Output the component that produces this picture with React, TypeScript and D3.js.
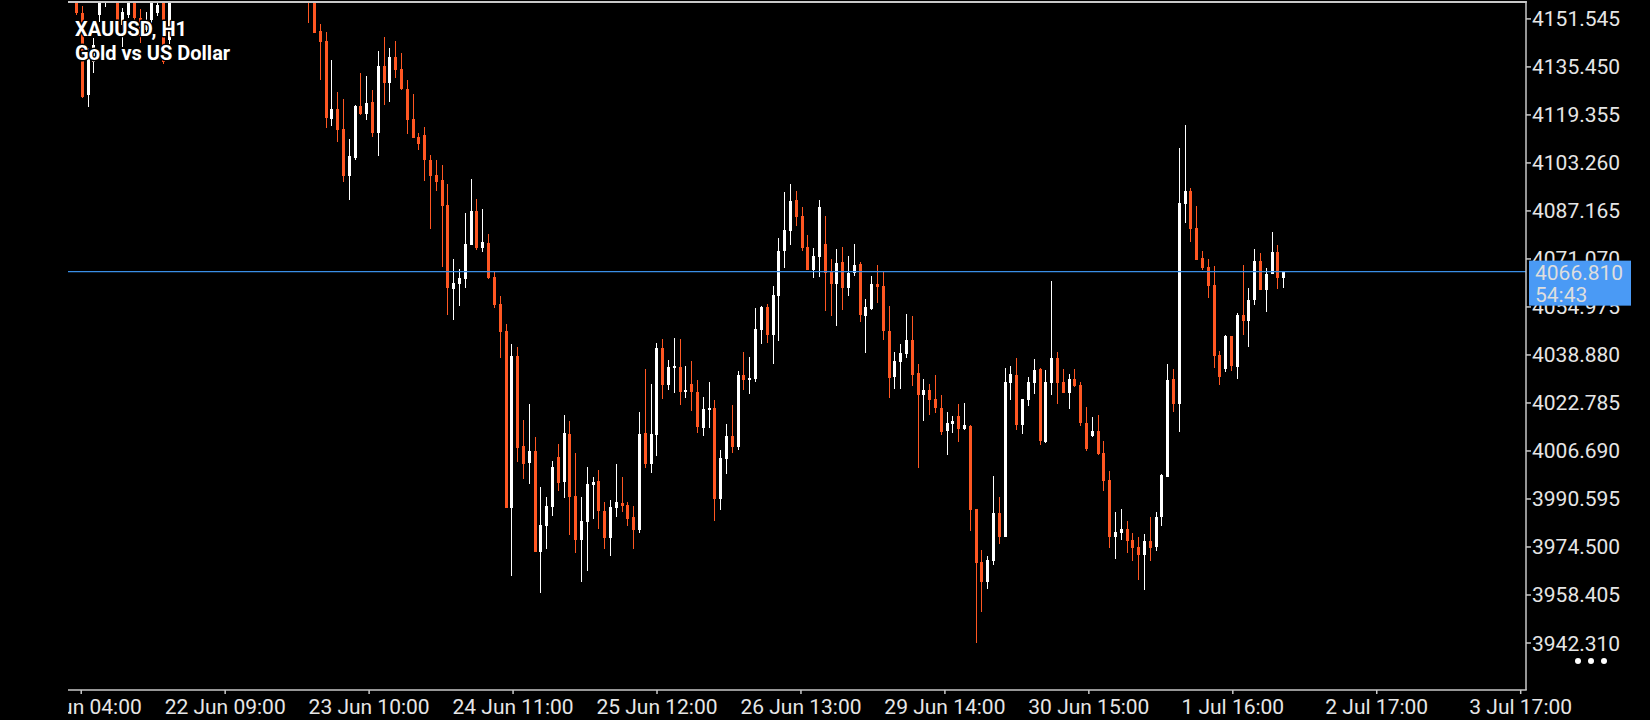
import React, { useEffect } from 'react';
import * as d3 from 'd3';

// XAUUSD H1 bars, oldest first (bars 17-39 sit above the visible window)
const opens = [
  4161.2, 4153.4, 4126.0, 4137.1, 4152.8, 4159.6, 4166.0, 4161.2, 4149.5, 4152.8,
  4160.6, 4151.8, 4147.8, 4151.2, 4153.5, 4159.9, 4144.5, 4160.6, 4164.2, 4168.5,
  4165.0, 4170.4, 4174.9, 4171.3, 4168.1, 4172.6, 4179.2, 4176.0, 4173.4, 4175.9,
  4171.2, 4167.7, 4170.8, 4168.0, 4164.5, 4168.3, 4165.1, 4162.0, 4164.9, 4161.3,
  4162.5, 4158.5, 4147.5, 4144.1, 4118.1, 4121.3, 4114.6, 4098.9, 4104.9, 4122.3,
  4119.6, 4123.7, 4113.4, 4135.8, 4130.2, 4138.8, 4134.7, 4128.0, 4118.0, 4111.9,
  4112.6, 4104.2, 4099.2, 4097.5, 4089.1, 4061.0, 4062.7, 4064.3, 4075.7, 4087.1,
  4074.7, 4076.4, 4065.0, 4055.9, 4046.9, 3987.5, 4038.5, 4008.3, 4002.6, 4006.6,
  3972.8, 3981.5, 3987.9, 4004.6, 3996.3, 4012.4, 3991.6, 3976.8, 3982.9, 3995.3,
  3996.6, 3986.5, 3977.5, 3987.5, 3989.2, 3988.5, 3984.5, 3980.2, 4012.7, 4002.3,
  4012.0, 4041.2, 4028.8, 4034.5, 4034.8, 4026.4, 4029.1, 4026.4, 4014.4, 4020.4,
  4021.1, 3990.6, 4004.0, 4011.7, 4008.0, 4032.1, 4030.5, 4030.8, 4047.2, 4054.9,
  4045.5, 4058.6, 4073.7, 4080.4, 4090.8, 4085.5, 4075.1, 4067.3, 4071.7, 4076.1,
  4066.7, 4062.7, 4070.0, 4061.3, 4066.3, 4069.3, 4051.9, 4054.3, 4062.7, 4062.0,
  4046.9, 4031.5, 4036.5, 4039.2, 4043.9, 4032.8, 4025.4, 4027.1, 4024.1, 4021.1,
  4013.4, 4015.7, 4018.4, 4014.0, 4015.0, 3987.2, 3969.4, 3962.7, 3969.8, 3985.9,
  3977.8, 4029.5, 4032.1, 4015.4, 4023.8, 4029.5, 4034.1, 4009.7, 4029.5, 4037.8,
  4029.8, 4026.1, 4030.8, 4028.8, 4016.0, 4011.7, 4013.4, 4006.0, 3996.9, 3977.8,
  3979.2, 3980.5, 3976.8, 3974.5, 3971.8, 3976.5, 3974.5, 3984.5, 3997.9, 4030.8,
  4022.4, 4089.5, 4093.8, 4081.4, 4071.4, 4068.4, 4062.3, 4038.9, 4034.1, 4045.2,
  4034.8, 4052.3, 4050.3, 4057.3, 4070.4, 4060.6, 4066.0, 4073.4, 4064.7,
];
const highs = [
  4164.6, 4155.9, 4141.8, 4145.1, 4166.3, 4167.9, 4170.0, 4162.9, 4155.2, 4164.6,
  4162.6, 4154.9, 4153.9, 4163.9, 4160.6, 4161.9, 4162.9, 4166.0, 4170.1, 4172.3,
  4171.8, 4176.5, 4178.0, 4175.2, 4173.9, 4181.4, 4183.5, 4180.2, 4177.8, 4179.6,
  4174.0, 4172.5, 4173.6, 4171.1, 4169.8, 4170.9, 4167.4, 4166.7, 4168.2, 4164.0,
  4164.0, 4161.0, 4149.8, 4147.1, 4137.8, 4127.0, 4124.7, 4111.3, 4122.6, 4133.4,
  4132.4, 4127.7, 4140.8, 4145.5, 4141.8, 4144.1, 4140.1, 4131.1, 4126.4, 4113.3,
  4115.3, 4105.9, 4104.2, 4102.5, 4096.2, 4071.0, 4067.7, 4086.5, 4097.9, 4091.2,
  4087.8, 4079.4, 4067.0, 4058.6, 4049.2, 4042.5, 4041.5, 4017.0, 4022.4, 4011.3,
  3994.6, 3991.2, 4003.3, 4009.0, 4018.7, 4016.7, 4006.0, 3991.2, 4001.3, 3997.9,
  4000.3, 3989.6, 3990.2, 4002.3, 3997.9, 3989.6, 3988.2, 4019.7, 4034.2, 4029.1,
  4042.9, 4044.2, 4037.2, 4044.5, 4044.2, 4035.2, 4036.8, 4030.5, 4024.8, 4029.8,
  4023.8, 4007.0, 4015.7, 4022.1, 4033.5, 4039.9, 4038.2, 4054.6, 4055.3, 4055.9,
  4062.0, 4078.1, 4093.5, 4096.2, 4093.8, 4088.5, 4079.1, 4074.7, 4090.8, 4085.5,
  4071.0, 4074.4, 4075.1, 4072.0, 4076.1, 4070.0, 4057.6, 4065.3, 4069.0, 4067.0,
  4055.3, 4039.9, 4042.5, 4052.6, 4051.9, 4035.8, 4030.8, 4029.1, 4032.1, 4025.4,
  4019.7, 4018.4, 4022.4, 4022.7, 4015.4, 3987.2, 3973.5, 3971.5, 3998.3, 3991.2,
  4034.5, 4035.2, 4037.8, 4024.1, 4031.5, 4037.5, 4034.5, 4033.8, 4063.7, 4039.9,
  4034.2, 4032.5, 4034.2, 4029.8, 4021.4, 4018.1, 4018.7, 4010.0, 4000.0, 3986.2,
  3987.2, 3983.2, 3979.2, 3977.8, 3978.8, 3984.5, 3986.2, 3998.9, 4035.8, 4034.2,
  4108.3, 4116.0, 4094.8, 4088.8, 4073.7, 4071.0, 4068.7, 4040.2, 4045.5, 4045.2,
  4052.9, 4069.0, 4061.3, 4074.4, 4073.0, 4068.0, 4080.1, 4075.7, 4067.0,
];
const lows = [
  4152.8, 4125.0, 4122.1, 4133.4, 4150.5, 4155.5, 4159.0, 4147.8, 4142.1, 4151.8,
  4151.2, 4143.5, 4147.2, 4149.8, 4152.5, 4136.4, 4143.1, 4158.5, 4161.8, 4163.9,
  4163.0, 4168.2, 4169.5, 4166.8, 4165.7, 4170.8, 4174.1, 4171.6, 4169.0, 4170.3,
  4165.4, 4164.1, 4166.3, 4162.9, 4161.7, 4163.2, 4159.8, 4158.9, 4160.1, 4157.6,
  4150.3, 4146.9, 4131.1, 4115.1, 4115.6, 4110.4, 4097.0, 4090.8, 4104.2, 4119.3,
  4117.6, 4112.0, 4105.6, 4122.7, 4123.7, 4131.8, 4127.7, 4113.0, 4111.6, 4107.6,
  4097.2, 4081.2, 4093.9, 4068.5, 4052.3, 4050.6, 4055.3, 4061.3, 4075.7, 4074.1,
  4073.4, 4064.3, 4054.6, 4037.8, 3987.5, 3964.7, 4003.0, 3997.3, 3995.6, 3972.8,
  3959.0, 3973.8, 3984.9, 3993.2, 3990.9, 3978.5, 3972.5, 3962.7, 3966.4, 3983.9,
  3980.5, 3973.8, 3971.4, 3984.5, 3986.2, 3981.5, 3973.8, 3979.2, 4001.0, 3999.3,
  4005.0, 4024.1, 4027.1, 4026.1, 4022.1, 4024.4, 4020.1, 4012.7, 4011.7, 4014.4,
  3983.2, 3986.9, 3998.9, 4006.0, 4007.0, 4027.1, 4025.8, 4029.8, 4042.5, 4042.9,
  4035.8, 4043.5, 4068.0, 4075.7, 4082.1, 4073.7, 4067.3, 4064.7, 4065.0, 4053.6,
  4051.9, 4048.6, 4053.9, 4058.6, 4065.3, 4049.9, 4039.5, 4053.9, 4056.3, 4043.9,
  4024.4, 4027.4, 4027.4, 4037.8, 4028.5, 4001.0, 4016.7, 4018.7, 4019.4, 4012.0,
  4005.3, 4012.7, 4009.7, 4013.7, 3979.8, 3942.3, 3952.7, 3960.4, 3968.5, 3975.5,
  3977.8, 4023.8, 4013.7, 4012.4, 4021.7, 4025.8, 4008.7, 4009.3, 4025.4, 4022.4,
  4026.1, 4020.7, 4028.1, 4015.0, 4006.6, 4011.4, 4005.3, 3993.2, 3974.1, 3970.4,
  3976.8, 3972.5, 3969.8, 3963.4, 3960.1, 3969.8, 3973.1, 3981.5, 3997.9, 4019.7,
  4013.0, 4083.1, 4076.7, 4070.7, 4067.3, 4058.0, 4034.5, 4028.8, 4033.1, 4033.5,
  4030.8, 4045.5, 4041.5, 4055.6, 4060.6, 4053.3, 4066.0, 4061.0, 4061.3,
];
const closes = [
  4153.4, 4125.5, 4138.4, 4142.8, 4162.9, 4166.3, 4163.0, 4150.2, 4153.9, 4161.9,
  4151.8, 4145.8, 4151.2, 4161.2, 4156.2, 4137.1, 4160.6, 4164.2, 4168.5, 4165.0,
  4170.4, 4174.9, 4171.3, 4168.1, 4172.6, 4179.2, 4176.0, 4173.4, 4175.9, 4171.2,
  4167.7, 4170.8, 4168.0, 4164.5, 4168.3, 4165.1, 4162.0, 4164.9, 4161.3, 4160.2,
  4157.3, 4146.9, 4143.9, 4118.4, 4121.3, 4114.3, 4098.9, 4105.7, 4122.3, 4119.6,
  4123.3, 4113.4, 4135.8, 4130.2, 4138.8, 4134.4, 4128.0, 4117.6, 4111.6, 4109.6,
  4104.2, 4099.0, 4097.0, 4088.9, 4061.4, 4063.0, 4064.7, 4076.1, 4087.1, 4074.7,
  4076.7, 4064.7, 4055.6, 4046.6, 3987.5, 4038.5, 4007.7, 4002.3, 4006.6, 3972.8,
  3981.8, 3988.2, 4001.3, 3995.9, 4012.7, 3991.2, 3976.8, 3983.2, 3995.6, 3996.3,
  3986.5, 3977.5, 3987.9, 3989.6, 3988.2, 3983.9, 3980.2, 4012.4, 4002.3, 4012.4,
  4041.2, 4028.8, 4034.8, 4035.2, 4026.4, 4027.1, 4026.4, 4014.7, 4020.7, 4021.1,
  3990.6, 4004.3, 4011.7, 4008.0, 4032.1, 4030.5, 4031.1, 4047.6, 4054.9, 4045.5,
  4059.0, 4073.7, 4080.8, 4090.5, 4085.1, 4074.7, 4067.3, 4072.0, 4088.5, 4066.3,
  4062.7, 4069.7, 4061.3, 4066.3, 4069.0, 4052.3, 4054.9, 4062.7, 4061.6, 4046.9,
  4031.1, 4036.8, 4039.5, 4043.9, 4032.1, 4025.4, 4027.1, 4023.8, 4021.1, 4013.0,
  4016.0, 4016.7, 4014.0, 4015.4, 3986.9, 3969.1, 3962.7, 3970.1, 3985.9, 3977.8,
  4029.8, 4032.5, 4015.4, 4024.1, 4029.8, 4033.8, 4010.0, 4029.8, 4037.8, 4029.5,
  4026.1, 4030.8, 4028.5, 4016.0, 4007.3, 4013.4, 4005.6, 3996.6, 3977.8, 3979.5,
  3980.5, 3976.5, 3974.1, 3971.8, 3976.5, 3974.1, 3984.5, 3998.6, 4030.5, 4022.4,
  4089.8, 4093.8, 4081.1, 4070.7, 4068.0, 4062.0, 4038.5, 4031.5, 4045.2, 4035.2,
  4052.3, 4050.3, 4057.3, 4070.4, 4060.6, 4066.0, 4073.4, 4064.7, 4066.81,
];

const priceTicks = [
  4151.545, 4135.45, 4119.355, 4103.26, 4087.165, 4071.07, 4054.975,
  4038.88, 4022.785, 4006.69, 3990.595, 3974.5, 3958.405, 3942.31,
];
const timeLabels = [
  '19 Jun 04:00', '22 Jun 09:00', '23 Jun 10:00', '24 Jun 11:00', '25 Jun 12:00',
  '26 Jun 13:00', '29 Jun 14:00', '30 Jun 15:00', '1 Jul 16:00', '2 Jul 17:00', '3 Jul 17:00',
];
const lastPrice = 4066.81;
const barTimer = '54:43';
const symbolTitle = 'XAUUSD, H1';
const symbolName = 'Gold vs US Dollar';

const W = 1650, H = 720;
const plot = { left: 68, right: 1526, top: 3, bottom: 690 };
const BULL = '#ffffff', BEAR = '#ff5722';
const FONT = 'Roboto, sans-serif';

// time labels are laid out every ~24.8 bars, starting just after the first bar
const firstLabelBar = 0.9;
const barsPerLabel = 24.8;

export default function App() {
  useEffect(() => {
    document.body.style.margin = '0';
    document.body.style.background = '#000';
  }, []);

  const n = closes.length;
  const x = d3.scaleLinear().domain([0, n - 1]).range([76, 1283.3]);
  const y = d3.scaleLinear().domain([3942.31, 4151.545]).range([643, 18.9]);
  const fmt = d3.format('.3f');

  const candles = closes.map((c, i) => {
    const o = opens[i];
    const cx = Math.round(x(i));
    const up = c >= o;
    const col = up ? BULL : BEAR;
    const top = y(Math.max(o, c));
    const h = Math.max(1, Math.abs(y(o) - y(c)));
    return (
      <g key={i}>
        <line x1={cx + 0.5} x2={cx + 0.5} y1={y(highs[i])} y2={y(lows[i])} stroke={col} strokeWidth={1} />
        <rect x={cx - 1} y={top} width={3} height={h} fill={col} />
      </g>
    );
  });

  const priceLabels = priceTicks.map((v, i) => (
    <g key={i}>
      <line x1={plot.right} x2={plot.right + 5} y1={y(v)} y2={y(v)} stroke="#c8c8c8" strokeWidth={1.5} />
      <text x={1532} y={y(v) + 7.5} fill="#e6e6e6" fontSize={21} fontFamily={FONT}>{fmt(v)}</text>
    </g>
  ));

  const timeTicks = timeLabels.map((t, k) => {
    const tx = x(firstLabelBar + k * barsPerLabel);
    return (
      <g key={k}>
        <line x1={tx} x2={tx} y1={plot.bottom} y2={plot.bottom + 4} stroke="#c8c8c8" strokeWidth={1.5} />
        <text x={tx} y={713.5} textAnchor="middle" fill="#e6e6e6" fontSize={21} fontFamily={FONT}>{t}</text>
      </g>
    );
  });

  const yLast = y(lastPrice);

  return (
    <div style={{ position: 'fixed', left: 0, top: 0 }}>
      <svg width={W} height={H} style={{ display: 'block' }}>
        <defs>
          <clipPath id="plotClip">
            <rect x={plot.left} y={plot.top} width={plot.right - plot.left} height={plot.bottom - plot.top} />
          </clipPath>
          <clipPath id="axisClip">
            <rect x={plot.left} y={plot.bottom} width={W - plot.left} height={H - plot.bottom} />
          </clipPath>
        </defs>
        <rect width={W} height={H} fill="#000" />

        <g clipPath="url(#plotClip)" shapeRendering="crispEdges">{candles}</g>

        <line x1={plot.left} x2={plot.right} y1={yLast} y2={yLast} stroke="#3a8ee6" strokeWidth={1.2} />

        <g>
          <text x={75} y={36} fill="#fff" fontSize={20} fontWeight="bold" fontFamily={FONT}
            stroke="#000" strokeWidth={3} paintOrder="stroke" strokeLinejoin="round">{symbolTitle}</text>
          <text x={75} y={60} fill="#fff" fontSize={20} fontWeight="bold" fontFamily={FONT}
            stroke="#000" strokeWidth={3} paintOrder="stroke" strokeLinejoin="round">{symbolName}</text>
        </g>

        {/* frame */}
        <line x1={plot.left} x2={plot.right + 0.75} y1={2} y2={2} stroke="#c8c8c8" strokeWidth={2} />
        <line x1={plot.left} x2={plot.right + 0.75} y1={plot.bottom} y2={plot.bottom} stroke="#c8c8c8" strokeWidth={1.5} />
        <line x1={plot.right} x2={plot.right} y1={1} y2={plot.bottom} stroke="#c8c8c8" strokeWidth={1.5} />

        {priceLabels}
        <g clipPath="url(#axisClip)">{timeTicks}</g>

        {/* current price tag */}
        <rect x={1529} y={yLast - 11} width={102} height={45} fill="#4a9af5" />
        <text x={1535} y={yLast + 8} fill="#dedede" fontSize={21} fontFamily={FONT}>{fmt(lastPrice)}</text>
        <text x={1535} y={yLast + 30} fill="#dedede" fontSize={21} fontFamily={FONT}>{barTimer}</text>

        {[0, 1, 2].map(k => (
          <circle key={k} cx={1578 + k * 13} cy={661} r={3} fill="#fff" />
        ))}
      </svg>
    </div>
  );
}
